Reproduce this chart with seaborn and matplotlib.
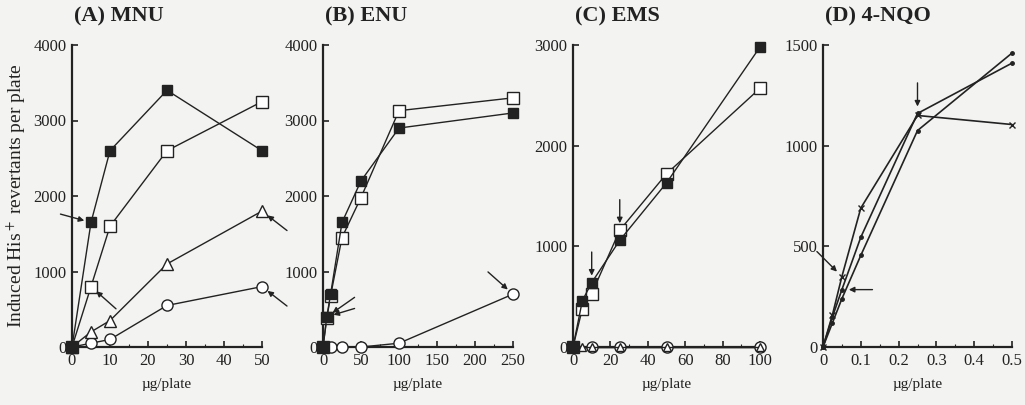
import matplotlib
matplotlib.use("Agg")
import matplotlib.pyplot as plt
import seaborn as sns
import numpy as np
from matplotlib.ticker import MultipleLocator, FuncFormatter

sns.set_theme(style="ticks")
plt.rcParams['font.family'] = ['Liberation Serif', 'DejaVu Serif']
plt.rcParams['mathtext.fontset'] = 'stix'

# ---- Data ----
# (A) MNU
mnu_x = [0, 5, 10, 25, 50]
mnu_filled_sq = [0, 1650, 2600, 3400, 2600]
mnu_open_sq = [0, 800, 1600, 2600, 3250]
mnu_triangle = [0, 200, 350, 1100, 1800]
mnu_circle = [0, 50, 100, 550, 800]

# (B) ENU
enu_x = [0, 5, 10, 25, 50, 100, 250]
enu_filled_sq = [0, 400, 700, 1650, 2200, 2900, 3100]
enu_open_sq = [0, 380, 680, 1450, 1980, 3130, 3300]
enu_circle_x = [0, 10, 25, 50, 100, 250]
enu_circle = [0, 0, 0, 0, 50, 700]

# (C) EMS
ems_x = [0, 5, 10, 25, 50, 100]
ems_filled_sq = [0, 460, 640, 1060, 1630, 2980]
ems_open_sq = [0, 380, 530, 1160, 1720, 2570]
ems_triangle = [0, 0, 0, 0, 0, 0]
ems_circle_x = [0, 10, 25, 50, 100]
ems_circle = [0, 0, 0, 0, 0]

# (D) 4-NQO
nqo_x = [0, 0.025, 0.05, 0.1, 0.25, 0.5]
nqo_cross = [0, 160, 350, 690, 1150, 1105]
nqo_dot1 = [0, 150, 285, 545, 1160, 1410]
nqo_dot2 = [0, 120, 240, 455, 1075, 1460]

titles = ["(A) MNU", "(B) ENU", "(C) EMS", "(D) 4-NQO"]
ylims = [4000, 4000, 3000, 1500]
yticks = [[0, 1000, 2000, 3000, 4000], [0, 1000, 2000, 3000, 4000],
          [0, 1000, 2000, 3000], [0, 500, 1000, 1500]]
xlims = [50, 250, 100, 0.5]
xmajor = [10, 50, 20, 0.1]
xminor = [5, 25, 10, 0.05]

bg = "#f3f3f1"
fig = plt.figure(figsize=(10.25, 4.05), dpi=100, facecolor=bg)

lefts = [72, 323, 573, 823]
rights = [262, 513, 760, 1012]
top_px, bot_px = 45, 347
W, H = 1025, 405
axes = []
for l, r in zip(lefts, rights):
    ax = fig.add_axes([l / W, 1 - bot_px / H, (r - l) / W, (bot_px - top_px) / H])
    ax.set_facecolor(bg)
    axes.append(ax)

ink = "#222222"


def series(ax, x, y, marker, filled, ms=8, lw=1.0, mew=1.0):
    sns.lineplot(x=x, y=y, ax=ax, color=ink, lw=lw, marker=marker, markersize=ms,
                 markerfacecolor=(ink if filled else "white"), markeredgecolor=ink,
                 markeredgewidth=mew, clip_on=False, zorder=3, estimator=None)


# A
ax = axes[0]
series(ax, mnu_x, mnu_circle, "o", False, ms=8)
series(ax, mnu_x, mnu_triangle, "^", False, ms=8)
series(ax, mnu_x, mnu_open_sq, "s", False, ms=8)
series(ax, mnu_x, mnu_filled_sq, "s", True, ms=7.5)

# B
ax = axes[1]
series(ax, enu_circle_x, enu_circle, "o", False, ms=8)
series(ax, enu_x, enu_open_sq, "s", False, ms=8)
series(ax, enu_x, enu_filled_sq, "s", True, ms=7.5)

# C
ax = axes[2]
series(ax, ems_circle_x, ems_circle, "o", False, ms=8)
series(ax, ems_x, ems_triangle, "^", False, ms=6)
series(ax, ems_x, ems_open_sq, "s", False, ms=8)
series(ax, ems_x, ems_filled_sq, "s", True, ms=7.5)

# D
ax = axes[3]
series(ax, nqo_x, nqo_cross, "x", False, ms=4, lw=1.2)
series(ax, nqo_x, nqo_dot1, "o", True, ms=2.5, lw=1.2)
series(ax, nqo_x, nqo_dot2, "o", True, ms=2.5, lw=1.2)

fmt = FuncFormatter(lambda v, p: f"{v:g}")
for i, ax in enumerate(axes):
    ax.set_xlim(0, xlims[i])
    ax.set_ylim(0, ylims[i])
    ax.set_yticks(yticks[i])
    ax.xaxis.set_major_locator(MultipleLocator(xmajor[i]))
    ax.xaxis.set_minor_locator(MultipleLocator(xminor[i]))
    ax.xaxis.set_major_formatter(fmt)
    for s in ["top", "right"]:
        ax.spines[s].set_visible(False)
    for s in ["left", "bottom"]:
        ax.spines[s].set_linewidth(1.6)
        ax.spines[s].set_color(ink)
    ax.tick_params(axis="both", which="major", direction="in", length=4, width=1.2,
                   labelsize=12, colors=ink, pad=4)
    ax.tick_params(axis="x", which="minor", direction="in", length=2, width=0.8, colors=ink)
    ax.tick_params(axis="y", which="minor", length=0)
    ax.set_title(titles[i], loc="left", fontsize=16, fontweight="bold", pad=17, color=ink,
                 x=0.01)
    ax.set_xlabel("µg/plate", fontsize=11, color=ink, labelpad=7)
    ax.set_ylabel("")
    ax.grid(False)

axes[0].set_ylabel("Induced His$^+$ revertants per plate", fontsize=14, color=ink, labelpad=4)

arrow = dict(arrowstyle="-|>", color=ink, lw=1.0, mutation_scale=8, shrinkA=0, shrinkB=5)


def point_arrow(ax, x, y, dx, dy):
    ax.annotate("", xy=(x, y), xytext=(dx, dy), textcoords="offset points",
                arrowprops=arrow, annotation_clip=False)


# A arrows
point_arrow(axes[0], mnu_x[1], mnu_filled_sq[1], -22, 6)
point_arrow(axes[0], mnu_x[1], mnu_open_sq[1], 18, -16)
point_arrow(axes[0], mnu_x[4], mnu_triangle[4], 18, -14)
point_arrow(axes[0], mnu_x[4], mnu_circle[4], 18, -14)
# B arrows
point_arrow(axes[1], enu_x[1], enu_filled_sq[1], 20, 6)
point_arrow(axes[1], enu_x[1], enu_filled_sq[1], 20, 14)
point_arrow(axes[1], enu_circle_x[5], enu_circle[5], -18, 16)
# C arrows
point_arrow(axes[2], ems_x[2], ems_filled_sq[2], 0, 22)
point_arrow(axes[2], ems_x[3], ems_open_sq[3], 0, 22)
# D arrows
point_arrow(axes[3], nqo_x[4], nqo_dot1[4], 0, 22)
point_arrow(axes[3], nqo_x[2], nqo_cross[2], -18, 18)
point_arrow(axes[3], nqo_x[2], nqo_dot1[2], 22, 0)

fig.savefig("out.png", dpi=100, facecolor=bg)
